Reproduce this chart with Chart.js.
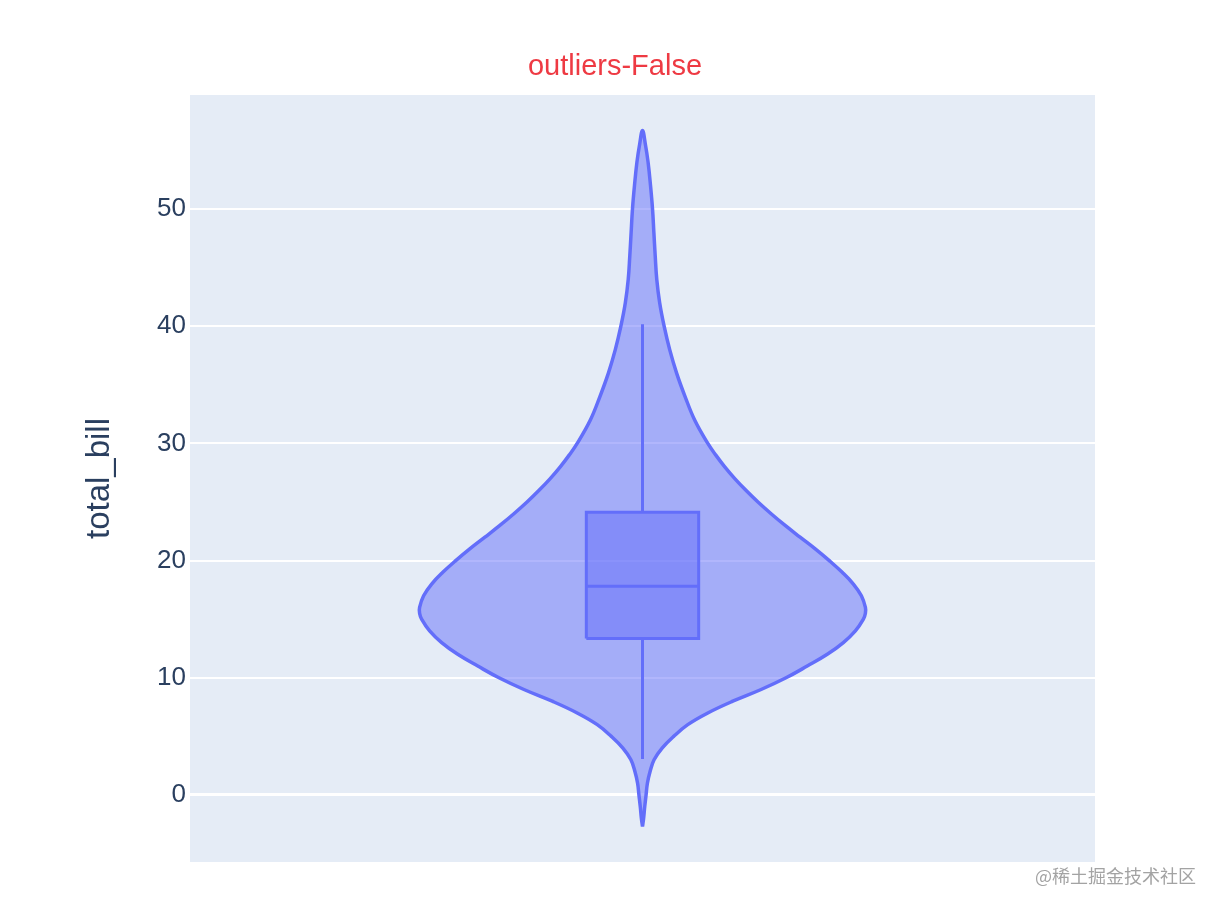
<!DOCTYPE html>
<html>
<head>
<meta charset="utf-8">
<script src="https://cdn.jsdelivr.net/npm/chart.js@4"></script>
<style>
  html, body { margin: 0; padding: 0; background: #fff; }
  #wrap { width: 1220px; height: 910px; }
</style>
</head>
<body>
<div id="wrap"><canvas id="grafico"></canvas></div>
<script>
// --- dados ---
// perfil do violino: valor de total_bill e meia-largura (densidade relativa, 1 = máximo)
const violinY = [-2.7, -2, -1, 0, 1, 2, 3, 4, 5, 6, 7, 8, 9, 10, 11, 12, 13, 14, 15, 15.5, 16, 17, 18, 19, 20, 21, 22, 23, 24, 25, 26, 27, 28, 29, 30, 32, 34, 36, 38, 40, 42, 44, 46, 48, 50, 52, 54, 55.5, 56.7];
const violinDensity = [0, 0.005, 0.010, 0.016, 0.022, 0.034, 0.052, 0.088, 0.14, 0.203, 0.293, 0.405, 0.532, 0.644, 0.739, 0.829, 0.901, 0.955, 0.991, 1.0, 1.0, 0.982, 0.946, 0.896, 0.838, 0.775, 0.707, 0.64, 0.577, 0.518, 0.464, 0.414, 0.369, 0.329, 0.293, 0.234, 0.191, 0.153, 0.122, 0.097, 0.077, 0.064, 0.057, 0.051, 0.045, 0.036, 0.025, 0.013, 0];
// caixa: [mínimo, Q1, mediana, Q3, máximo]
const boxStats = [3.07, 13.35, 17.8, 24.13, 40.17];
const yTicks = [0, 10, 20, 30, 40, 50];
const titulo = 'outliers-False';
const eixoTitulo = 'total_bill';
const marcaDagua = '@稀土掘金技术社区';

const LINE = '#636efa';
const FILL = 'rgba(99,110,250,0.5)';
const BOX_HALF = 0.252;
const FONTE = '"Liberation Sans", Arial, sans-serif';

// contorno fechado: lado direito de baixo p/ cima, lado esquerdo de cima p/ baixo
const ladoDireito = violinY.map((y, i) => ({ x: violinDensity[i], y: y }));
const ladoEsquerdo = violinY.map((y, i) => ({ x: -violinDensity[i], y: y })).reverse();
const contorno = ladoDireito.concat(ladoEsquerdo.slice(1));

const [minimo, q1, mediana, q3, maximo] = boxStats;
const caixa = [
  { x: -BOX_HALF, y: q1 }, { x: BOX_HALF, y: q1 }, { x: BOX_HALF, y: q3 },
  { x: -BOX_HALF, y: q3 }, { x: -BOX_HALF, y: q1 }
];

const fundoPlot = {
  id: 'fundoPlot',
  beforeDraw(chart) {
    const a = chart.chartArea, ctx = chart.ctx;
    ctx.save();
    ctx.fillStyle = '#E5ECF6';
    ctx.fillRect(a.left, a.top, a.right - a.left, a.bottom - a.top);
    ctx.restore();
  },
  afterDraw(chart) {
    const ctx = chart.ctx;
    ctx.save();
    ctx.fillStyle = '#ee3a43';
    ctx.font = '29px ' + FONTE;
    ctx.textAlign = 'center';
    ctx.textBaseline = 'middle';
    ctx.fillText(titulo, 615, 67);
    ctx.fillStyle = '#a3a3a3';
    ctx.font = '18px "Noto Sans CJK SC", sans-serif';
    ctx.textAlign = 'right';
    ctx.fillText(marcaDagua, 1196, 876);
    ctx.restore();
  }
};

const linha = (data, extra) => Object.assign({
  data: data, showLine: true, pointRadius: 0, borderColor: LINE, borderWidth: 3, fill: false, tension: 0
}, extra);

new Chart(document.getElementById('grafico'), {
  type: 'scatter',
  data: {
    datasets: [
      linha([{ x: -BOX_HALF, y: mediana }, { x: BOX_HALF, y: mediana }], { order: 1 }),
      linha(caixa, { order: 2, fill: 'shape', backgroundColor: FILL }),
      linha([{ x: 0, y: q3 }, { x: 0, y: maximo }], { order: 3 }),
      linha([{ x: 0, y: q1 }, { x: 0, y: minimo }], { order: 3 }),
      linha(contorno, { order: 10, fill: 'shape', backgroundColor: FILL, borderWidth: 3.5, tension: 0.4 })
    ]
  },
  options: {
    responsive: true,
    maintainAspectRatio: false,
    animation: false,
    layout: { padding: { top: 95, right: 125, bottom: 48, left: 0 } },
    plugins: { legend: { display: false }, tooltip: { enabled: false }, title: { display: false } },
    scales: {
      x: { type: 'linear', display: false, min: -2.03, max: 2.03 },
      y: {
        type: 'linear', min: -5.72, max: 59.73,
        afterBuildTicks(scale) { scale.ticks = yTicks.map(v => ({ value: v })); },
        afterFit(scale) { scale.width = 190; },
        grid: { color: '#ffffff', lineWidth: c => (c.tick && c.tick.value === 0 ? 3 : 2), drawTicks: false },
        border: { display: false },
        ticks: { color: '#2a3f5f', padding: 4, font: { size: 26, family: FONTE } },
        title: {
          display: true, text: eixoTitulo, color: '#2a3f5f',
          font: { size: 33, family: FONTE },
          padding: { top: 80, bottom: 0 }
        }
      }
    }
  },
  plugins: [fundoPlot]
});
</script>
</body>
</html>
